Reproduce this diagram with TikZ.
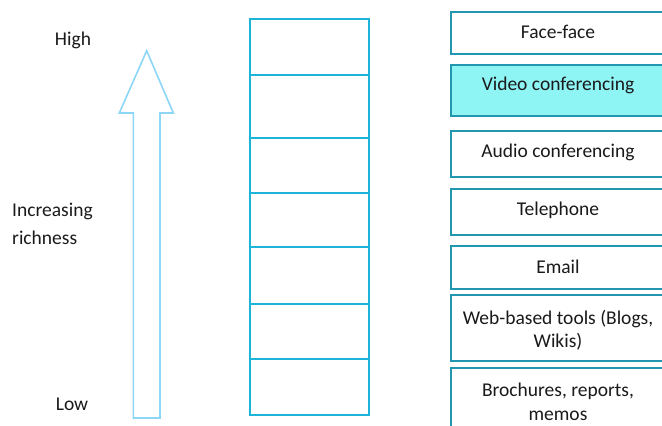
\documentclass[tikz,border=0pt]{standalone}
\usepackage{fontspec}
\setmainfont{Carlito}
\definecolor{boxline}{HTML}{2497B0}
\definecolor{cellline}{HTML}{1CB4D9}
\definecolor{arrowline}{HTML}{8DD6F6}
\definecolor{hilite}{HTML}{8EF4F4}
\definecolor{ink}{HTML}{1A1A1A}
\tikzset{
  lbl/.style={anchor=base, text=ink, inner sep=0pt, font=\fontsize{19.5}{23.8}\selectfont},
  medbox/.style={draw=boxline, line width=1.8pt, fill=white, minimum width=214pt, inner sep=0pt},
  cell/.style={draw=cellline, line width=1.1pt, minimum width=119pt, inner sep=0pt},
  uparrow/.style={draw=arrowline, line width=1.6pt, fill=white, line join=miter}
}
\begin{document}
\begin{tikzpicture}[x=1pt,y=-1pt]
\useasboundingbox (0,0) rectangle (662,426);

% left labels
\node[lbl] (high) at (73,45) {High};
\node[lbl] (low) at (72,410) {Low};
\node[lbl, anchor=base west] (inc1) at (12,216) {Increasing};
\node[lbl, anchor=base west] (inc2) at (12,244) {richness};

% hollow up arrow
\draw[uparrow] (146.7,50.7) -- (173.3,113) -- (160,113) -- (160,418)
  -- (133.3,418) -- (133.3,113) -- (119.3,113) -- cycle;

% ladder of cells
\node[cell, minimum height=56pt]  (c1) at (309.5,47)   {};
\node[cell, minimum height=63pt]  (c2) at (309.5,106.5) {};
\node[cell, minimum height=55pt]  (c3) at (309.5,165.5) {};
\node[cell, minimum height=54pt]  (c4) at (309.5,220)  {};
\node[cell, minimum height=57pt]  (c5) at (309.5,275.5) {};
\node[cell, minimum height=55pt]  (c6) at (309.5,331.5) {};
\node[cell, minimum height=56pt]  (c7) at (309.5,387)  {};

% media boxes
\node[medbox, minimum height=42pt] (b1) at (558,33) {};
\node[medbox, minimum height=51pt, fill=hilite] (b2) at (558,90.5) {};
\node[medbox, minimum height=46pt] (b3) at (558,154) {};
\node[medbox, minimum height=46pt] (b4) at (558,212) {};
\node[medbox, minimum height=43pt] (b5) at (558,267.5) {};
\node[medbox, minimum height=66pt] (b6) at (558,328) {};
\node[medbox, minimum height=80pt] (b7) at (558,408) {};

\node[lbl] (t1) at (558,38) {Face-face};
\node[lbl] (t2) at (558,90) {Video conferencing};
\node[lbl] (t3) at (558,157) {Audio conferencing};
\node[lbl] (t4) at (558,215) {Telephone};
\node[lbl] (t5) at (558,273) {Email};
\node[lbl] (t6a) at (558,324) {Web-based tools (Blogs,};
\node[lbl] (t6b) at (558,347) {Wikis)};
\node[lbl] (t7a) at (558,396) {Brochures, reports,};
\node[lbl] (t7b) at (558,420) {memos};
\end{tikzpicture}
\end{document}
